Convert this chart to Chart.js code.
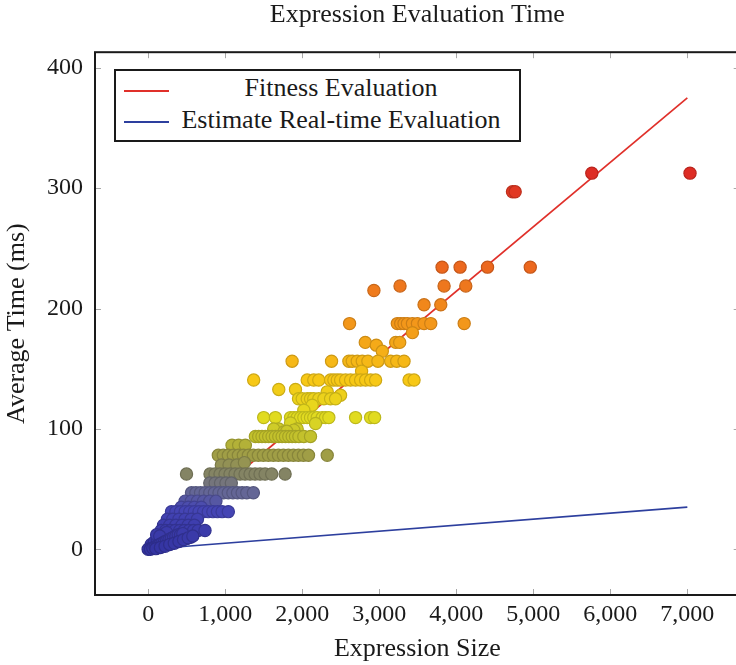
<!DOCTYPE html>
<html>
<head>
<meta charset="utf-8">
<script src="https://cdn.jsdelivr.net/npm/chart.js@4.4.0/dist/chart.umd.min.js"></script>
<style>
  html, body { margin: 0; padding: 0; background: #fff; overflow: hidden; }
  .wrap { position: relative; width: 747px; height: 665px; }
  .legend { position: absolute; left: 114px; top: 69px; width: 403px; height: 69px;
    border: 2px solid #1a1a1a; background: #fff; font-family: 'Liberation Serif', serif;
    font-size: 26px; color: #1a1a1a; }
  .legend .row { position: absolute; left: 0; right: 0; height: 30px; }
  .legend .swatch { position: absolute; left: 8px; width: 45px; height: 2px; }
  .legend .label { position: absolute; left: 55px; right: 8px; top: 0; text-align: center; line-height: 30px; white-space: nowrap; }
</style>
</head>
<body>
<div class="wrap">
  <canvas id="chart" width="747" height="665"></canvas>
  <div class="legend">
    <div class="row" style="top:2px"><div class="swatch" style="top:17px;background:#e0302a"></div><div class="label">Fitness Evaluation</div></div>
    <div class="row" style="top:34px"><div class="swatch" style="top:16px;background:#2d3f9e"></div><div class="label">Estimate Real-time Evaluation</div></div>
  </div>
</div>
<script>
// measured runs: [expression size, average time in ms]
const highRuns = [
  [4730, 297], [4765, 297], [5760, 312.5], [7035, 312.5],
  [3816, 234.4], [4050, 234.4], [4406, 234.4], [4961, 234.4],
  [3270, 218.75], [3842, 218.75], [4124, 218.75], [2931, 215],
  [3582, 203.1], [3799, 203.1],
  [2615, 187.5], [3235, 187.5], [3279, 187.5], [3322, 187.5], [3366, 187.5], [3431, 187.5],
  [3496, 187.5], [3582, 187.5], [3669, 187.5], [4103, 187.5],
  [3431, 180], [2819, 171.9], [3214, 171.9], [3266, 171.9], [2962, 169.6], [3040, 164.5]
];
const midRuns = [
  [1869, 156.25], [2381, 156.25], [2606, 156.25], [2650, 156.25], [2715, 156.25], [2780, 156.25],
  [2853, 156.25], [2983, 156.25], [3148, 156.25], [3227, 156.25], [3322, 156.25], [2771, 148],
  [1370, 140.6], [2065, 140.6], [2150, 140.6], [2215, 140.6], [2368, 140.6], [2411, 140.6],
  [2455, 140.6], [2498, 140.6], [2563, 140.6], [2628, 140.6], [2693, 140.6], [2758, 140.6],
  [2823, 140.6], [2888, 140.6], [2953, 140.6], [3387, 140.6], [3452, 140.6],
  [1696, 132.8], [1913, 132.8], [2325, 130.8], [2498, 128],
  [1952, 125], [2000, 125], [2065, 125], [2108, 125], [2150, 125], [2215, 125], [2281, 125],
  [2368, 125], [2433, 125], [2130, 119.7], [2021, 115.6],
  [1500, 109.4], [1652, 109.4], [1848, 109.4], [1892, 109.4], [1935, 109.4], [1978, 109.4],
  [2021, 109.4], [2065, 109.4], [2108, 109.4], [2150, 109.4], [2195, 109.4], [2260, 109.4],
  [2303, 109.4], [2346, 109.4], [2693, 109.4], [2888, 109.4], [2940, 109.4],
  [2173, 104.5], [1848, 105], [1696, 100], [1935, 100], [1630, 100], [1891, 99], [1761, 97.5], [1800, 98],
  [1392, 93.75], [1435, 93.75], [1478, 93.75], [1522, 93.75], [1565, 93.75], [1609, 93.75],
  [1652, 93.75], [1696, 93.75], [1739, 93.75], [1783, 93.75], [1826, 93.75], [1870, 93.75],
  [1913, 93.75], [1957, 93.75], [2021, 93.75], [2108, 93.75]
];
const lowRuns = [
  [1089, 86.5], [1175, 86.5], [1262, 86.5],
  [911, 78.1], [976, 78.1], [1041, 78.1], [1106, 78.1], [1171, 78.1], [1236, 78.1], [1301, 78.1],
  [1366, 78.1], [1431, 78.1], [1496, 78.1], [1561, 78.1], [1626, 78.1], [1691, 78.1], [1756, 78.1],
  [1821, 78.1], [1886, 78.1], [1951, 78.1], [2016, 78.1], [2082, 78.1], [2325, 78.1],
  [950, 70], [1050, 70], [1150, 70], [1250, 72],
  [498, 62.5], [803, 62.5], [868, 62.5], [933, 62.5], [998, 62.5], [1063, 62.5], [1128, 62.5],
  [1193, 62.5], [1258, 62.5], [1323, 62.5], [1388, 62.5], [1453, 62.5], [1518, 62.5], [1604, 62.5], [1778, 62.5],
  [800, 55], [870, 55], [940, 55], [1010, 55], [1080, 55],
  [563, 46.9], [620, 46.9], [680, 46.9], [740, 46.9], [800, 46.9], [860, 46.9], [920, 46.9],
  [980, 46.9], [1040, 46.9], [1100, 46.9], [1160, 46.9], [1220, 46.9], [1280, 46.9], [1366, 46.9],
  [480, 40], [560, 40], [640, 40], [720, 40], [800, 40], [880, 40],
  [430, 35], [520, 35], [600, 35], [690, 35],
  [303, 31.25], [360, 31.25], [420, 31.25], [480, 31.25], [540, 31.25], [600, 31.25], [660, 31.25],
  [720, 31.25], [780, 31.25], [840, 31.25], [900, 31.25], [960, 31.25], [1041, 31.25],
  [250, 25], [320, 25], [400, 25], [480, 25], [560, 25], [640, 25],
  [200, 20], [280, 20], [360, 20], [440, 20], [520, 20], [600, 20],
  [170, 15.6], [230, 15.6], [290, 15.6], [350, 15.6], [410, 15.6], [470, 15.6], [530, 15.6],
  [590, 15.6], [650, 15.6], [738, 15.6],
  [40, 4], [80, 6], [120, 8], [160, 10], [200, 12], [240, 14], [110, 12], [150, 11],
  [350, 6], [400, 7], [450, 8], [500, 9], [550, 10],
  [0, 0], [30, 0], [60, 1], [90, 2], [120, 3], [150, 4], [180, 5], [210, 6], [240, 7], [270, 8],
  [300, 9], [330, 10], [360, 11], [390, 12], [420, 12], [450, 13],
  [100, 0.5], [160, 1.5], [220, 2.5], [280, 4], [340, 5], [400, 6.5], [460, 8], [520, 9.5], [580, 11]
];
// fitted lines
const lineSizes = [0, 7000];
const fitnessTimes = [0, 375];
const estimateTimes = [0, 35];
// axis ticks
const xTicks = [0, 1000, 2000, 3000, 4000, 5000, 6000, 7000];
const yTicks = [0, 100, 200, 300, 400];

const SERIF = "'Liberation Serif', 'Times New Roman', serif";

// colour map over time (ms)
const cmap = [
  [0, [52, 52, 162]], [31, [68, 68, 180]], [47, [100, 102, 150]], [62.5, [132, 132, 100]],
  [78, [160, 158, 70]], [94, [196, 194, 44]], [110, [226, 220, 32]], [141, [247, 200, 22]],
  [188, [243, 150, 26]], [234, [236, 104, 30]], [312, [222, 44, 36]]
];
function colorAt(v, k) {
  let c = cmap[cmap.length - 1][1];
  for (let i = 1; i < cmap.length; i++) {
    if (v <= cmap[i][0]) {
      const [a, ca] = cmap[i - 1], [b, cb] = cmap[i];
      const t = Math.max(0, (v - a) / (b - a));
      c = ca.map((q, j) => q + (cb[j] - q) * t);
      break;
    }
  }
  return `rgb(${c.map(q => Math.round(q * k)).join(',')})`;
}

const runs = [...highRuns, ...midRuns, ...lowRuns].map(([x, y]) => ({x, y}));

const frame = {
  id: 'frame',
  afterDraw(chart) {
    const {ctx, chartArea: a, scales: {x, y}} = chart;
    ctx.save();
    ctx.strokeStyle = '#a8a8a8';
    ctx.lineWidth = 1;
    ctx.beginPath();
    x.ticks.forEach(t => {
      const p = Math.round(x.getPixelForValue(t.value)) + 0.5;
      ctx.moveTo(p, a.top); ctx.lineTo(p, a.top + 6);
      ctx.moveTo(p, a.bottom); ctx.lineTo(p, a.bottom - 6);
    });
    y.ticks.forEach(t => {
      const p = Math.round(y.getPixelForValue(t.value)) + 0.5;
      ctx.moveTo(a.left, p); ctx.lineTo(a.left + 6, p);
      ctx.moveTo(a.right, p); ctx.lineTo(a.right - 6, p);
    });
    ctx.stroke();
    ctx.strokeStyle = '#1a1a1a';
    ctx.lineWidth = 2;
    ctx.strokeRect(a.left, a.top, a.right - a.left, a.bottom - a.top);
    ctx.restore();
  }
};

new Chart(document.getElementById('chart'), {
  type: 'scatter',
  data: {
    datasets: [{
      label: 'Runs',
      data: runs,
      order: 0,
      pointRadius: 6.1,
      pointHoverRadius: 6.1,
      borderWidth: 1.2,
      backgroundColor: c => colorAt(c.raw ? c.raw.y : 0, 1),
      borderColor: c => colorAt(c.raw ? c.raw.y : 0, 0.84)
    }, {
      label: 'Fitness Evaluation',
      type: 'line',
      data: lineSizes.map((x, i) => ({x, y: fitnessTimes[i]})),
      order: 1,
      borderColor: '#e0302a',
      borderWidth: 1.7,
      pointRadius: 0
    }, {
      label: 'Estimate Real-time Evaluation',
      type: 'line',
      data: lineSizes.map((x, i) => ({x, y: estimateTimes[i]})),
      order: 2,
      borderColor: '#2d3f9e',
      borderWidth: 1.7,
      pointRadius: 0
    }]
  },
  options: {
    responsive: false,
    animation: false,
    layout: { padding: { left: 0, right: 3, top: 0, bottom: 0 } },
    plugins: {
      legend: { display: false },
      tooltip: { enabled: false },
      title: {
        display: true,
        text: 'Expression Evaluation Time',
        fullSize: false,
        color: '#1a1a1a',
        font: { family: SERIF, size: 26, weight: 'normal' },
        padding: { top: 0, bottom: 21 }
      }
    },
    scales: {
      x: {
        type: 'linear',
        min: -690,
        max: 7680,
        afterBuildTicks: s => { s.ticks = xTicks.map(v => ({value: v})); },
        afterFit: s => { s.height = 70; },
        grid: { display: false, drawTicks: false },
        border: { display: false },
        ticks: {
          color: '#1a1a1a',
          padding: 5,
          maxRotation: 0,
          font: { family: SERIF, size: 24 },
          callback: v => v.toLocaleString('en-US')
        },
        title: {
          display: true,
          text: 'Expression Size',
          color: '#1a1a1a',
          font: { family: SERIF, size: 26 },
          padding: { top: 0, bottom: 0 }
        }
      },
      y: {
        type: 'linear',
        min: -38,
        max: 413,
        afterBuildTicks: s => { s.ticks = yTicks.map(v => ({value: v})); },
        afterFit: s => { s.width = 95; },
        grid: { display: false, drawTicks: false },
        border: { display: false },
        ticks: {
          color: '#1a1a1a',
          padding: 12,
          font: { family: SERIF, size: 24 }
        },
        title: {
          display: true,
          text: 'Average Time (ms)',
          color: '#1a1a1a',
          font: { family: SERIF, size: 26 },
          padding: { top: 2, bottom: 0 }
        }
      }
    }
  },
  plugins: [frame]
});
</script>
</body>
</html>
